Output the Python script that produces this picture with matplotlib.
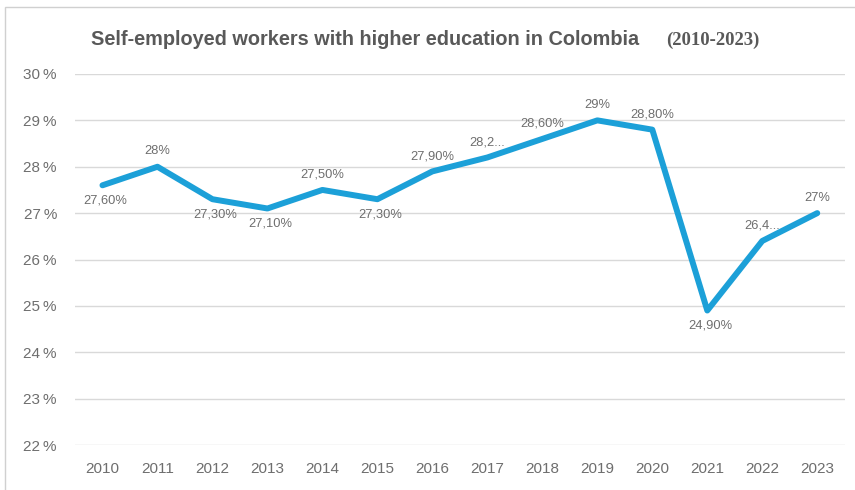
import matplotlib.pyplot as plt
from matplotlib.patches import Rectangle

years = ["2010", "2011", "2012", "2013", "2014", "2015", "2016",
         "2017", "2018", "2019", "2020", "2021", "2022", "2023"]
values = [27.6, 28.0, 27.3, 27.1, 27.5, 27.3, 27.9,
          28.2, 28.6, 29.0, 28.8, 24.9, 26.4, 27.0]
labels = ["27,60%", "28%", "27,30%", "27,10%", "27,50%", "27,30%", "27,90%",
          "28,2...", "28,60%", "29%", "28,80%", "24,90%", "26,4...", "27%"]
# label placement: 1 above, -1 below
side = [-1, 1, -1, -1, 1, -1, 1, 1, 1, 1, 1, -1, 1, 1]
yticks = [22, 23, 24, 25, 26, 27, 28, 29, 30]

gray = "#595959"
tick_gray = "#6E6E6E"
blue = "#1CA0D8"

fig = plt.figure(figsize=(8.55, 4.9), dpi=100)
ax = fig.add_axes([0.0877, 0.0918, 0.9003, 0.7572])

x = list(range(len(years)))
ax.plot(x, values, color=blue, lw=4.3, solid_capstyle="round", solid_joinstyle="round", zorder=3)

for i, (v, lab, s) in enumerate(zip(values, labels, side)):
    ax.annotate(lab, (i, v), xytext=(2 if s < 0 else 0, 11 * s), textcoords="offset points",
                ha="center", va="center",
                fontsize=9.3, color=tick_gray, family="Liberation Sans", zorder=4)

ax.set_xlim(-0.5, len(years) - 0.5)
ax.set_ylim(22, 30)
ax.set_yticks(yticks)
ax.set_yticklabels([f"{t}\u2009%" for t in yticks])
ax.set_xticks(x)
ax.set_xticklabels(years)
ax.grid(axis="y", color="#D9D9D9", lw=1)
ax.set_axisbelow(True)
for sp in ax.spines.values():
    sp.set_visible(False)
ax.tick_params(length=0, labelsize=11, labelcolor=tick_gray)
ax.tick_params(axis="x", pad=12)
ax.tick_params(axis="y", pad=13)
for t in ax.get_xticklabels() + ax.get_yticklabels():
    t.set_family("Liberation Sans")

fig.text(0.107, 0.92, "Self-employed workers with higher education in Colombia",
         fontsize=14.3, fontweight="bold", color=gray, family="Liberation Sans",
         ha="left", va="center")
fig.text(0.779, 0.917, "(2010-2023)", fontsize=13.5, fontweight="bold", color=gray,
         family="Liberation Serif", ha="left", va="center")

fig.patches.append(Rectangle((5 / 855, -0.05), 1.1, (490 - 7) / 490 + 0.05,
                             transform=fig.transFigure,
                             fill=False, edgecolor="#D0D0D0", lw=1))

fig.savefig("out.png", dpi=100)
